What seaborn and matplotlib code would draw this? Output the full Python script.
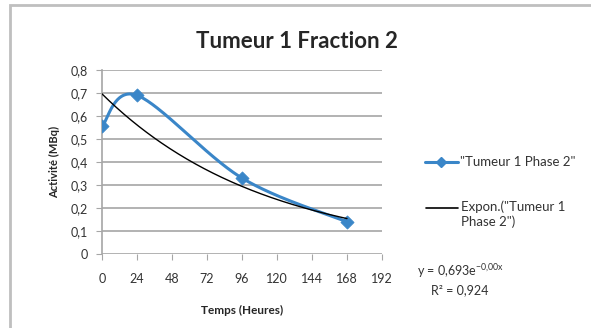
import numpy as np
import pandas as pd
import matplotlib
matplotlib.use("Agg")
import matplotlib.pyplot as plt
import seaborn as sns
from matplotlib.patches import Rectangle

# données
temps = [0, 24, 96, 168]
activite = [0.555, 0.69, 0.33, 0.14]
x_ticks = [0, 24, 48, 72, 96, 120, 144, 168, 192]
y_ticks = [0, 0.1, 0.2, 0.3, 0.4, 0.5, 0.6, 0.7, 0.8]

sns.set_style("white")
plt.rcParams["font.family"] = ["Lato", "DejaVu Sans"]

fig = plt.figure(figsize=(5.91, 3.28), dpi=100)
ax = fig.add_axes([102 / 591, 1 - 254 / 328, 280 / 591, 184 / 328])

# courbe lissée façon Excel (Catmull-Rom, calculée en pixels)
sx, sy = 280 / 192, 184 / 0.8
P = np.column_stack([np.array(temps) * sx, np.array(activite) * sy])
pts = np.vstack([P[0], P, P[-1]])
xs, ys = [], []
for i in range(1, len(pts) - 2):
    p0, p1, p2, p3 = pts[i - 1], pts[i], pts[i + 1], pts[i + 2]
    c1 = p1 + (p2 - p0) / 6
    c2 = p2 - (p3 - p1) / 6
    t = np.linspace(0, 1, 60)[:, None]
    b = (1 - t) ** 3 * p1 + 3 * (1 - t) ** 2 * t * c1 + 3 * (1 - t) * t ** 2 * c2 + t ** 3 * p2
    xs.extend(b[:, 0] / sx)
    ys.extend(b[:, 1] / sy)
lisse = pd.DataFrame({"x": xs, "y": ys})

# tendance exponentielle
k, lna = np.polyfit(temps, np.log(activite), 1)
tx = np.linspace(0, 168, 200)
tendance = pd.DataFrame({"x": tx, "y": np.exp(lna) * np.exp(k * tx)})

blue = "#3a86c8"
for yv in y_ticks:
    ax.axhline(yv, color="#a6a6a6", lw=1.2, zorder=0)

sns.lineplot(data=lisse, x="x", y="y", ax=ax, color=blue, lw=2.2, sort=False, zorder=2)
sns.scatterplot(x=temps, y=activite, ax=ax, color=blue, marker="D", s=45, edgecolor=blue, zorder=3)
sns.lineplot(data=tendance, x="x", y="y", ax=ax, color="black", lw=1.0, zorder=4)

ax.set_xlim(0, 192)
ax.set_ylim(0, 0.8)
ax.set_xticks(x_ticks)
ax.set_yticks(y_ticks)
ax.set_xticklabels([str(v) for v in x_ticks], fontsize=9, color="#333333")
ax.set_yticklabels([f"{v:g}".replace(".", ",") for v in y_ticks], fontsize=9, color="#333333")
ax.tick_params(axis="x", length=4, pad=10, color="#a6a6a6", direction="out", bottom=True)
ax.tick_params(axis="y", length=4, pad=6, color="#a6a6a6", direction="out", left=True)
for s in ["top", "right"]:
    ax.spines[s].set_visible(False)
ax.spines["bottom"].set_visible(False)
ax.spines["left"].set_color("#a6a6a6")
ax.spines["left"].set_linewidth(1.2)
ax.set_xlabel("Temps (Heures)", fontsize=8.5, fontweight="bold", labelpad=14)
ax.set_ylabel("Activité (MBq)", fontsize=8, fontweight="bold", labelpad=8)

fig.text(297 / 591, 1 - 42 / 328, "Tumeur 1 Fraction 2", fontsize=16, fontweight="bold",
         ha="center", va="center")

# légende
fig.add_artist(plt.Line2D([425 / 591, 458 / 591], [1 - 162 / 328] * 2, color=blue, lw=2.2))
fig.add_artist(plt.Line2D([441 / 591], [1 - 162 / 328], color=blue, marker="D", ms=5))
fig.text(460 / 591, 1 - 162 / 328, "\"Tumeur 1 Phase 2\"", fontsize=9.5, color="#333333", va="center")
fig.add_artist(plt.Line2D([426 / 591, 458 / 591], [1 - 208 / 328] * 2, color="black", lw=1.2))
fig.text(461 / 591, 1 - 200 / 328, "Expon.(\"Tumeur 1\nPhase 2\")", fontsize=9.5, color="#333333",
         va="top", linespacing=1.3)
fig.text(417 / 591, 1 - 271 / 328, r"y = 0,693e$^{\mathregular{-0{,}00x}}$", fontsize=9, color="#333333",
         va="center")
fig.text(431 / 591, 1 - 290 / 328, "R² = 0,924", fontsize=9, color="#333333", va="center")

# cadre du graphique
fig.add_artist(Rectangle((10 / 591, -0.1), 1.2, 1 - 5 / 328 + 0.1, transform=fig.transFigure,
                         fill=False, edgecolor="#bfbfbf", lw=2))

fig.savefig("out.png", dpi=100)
